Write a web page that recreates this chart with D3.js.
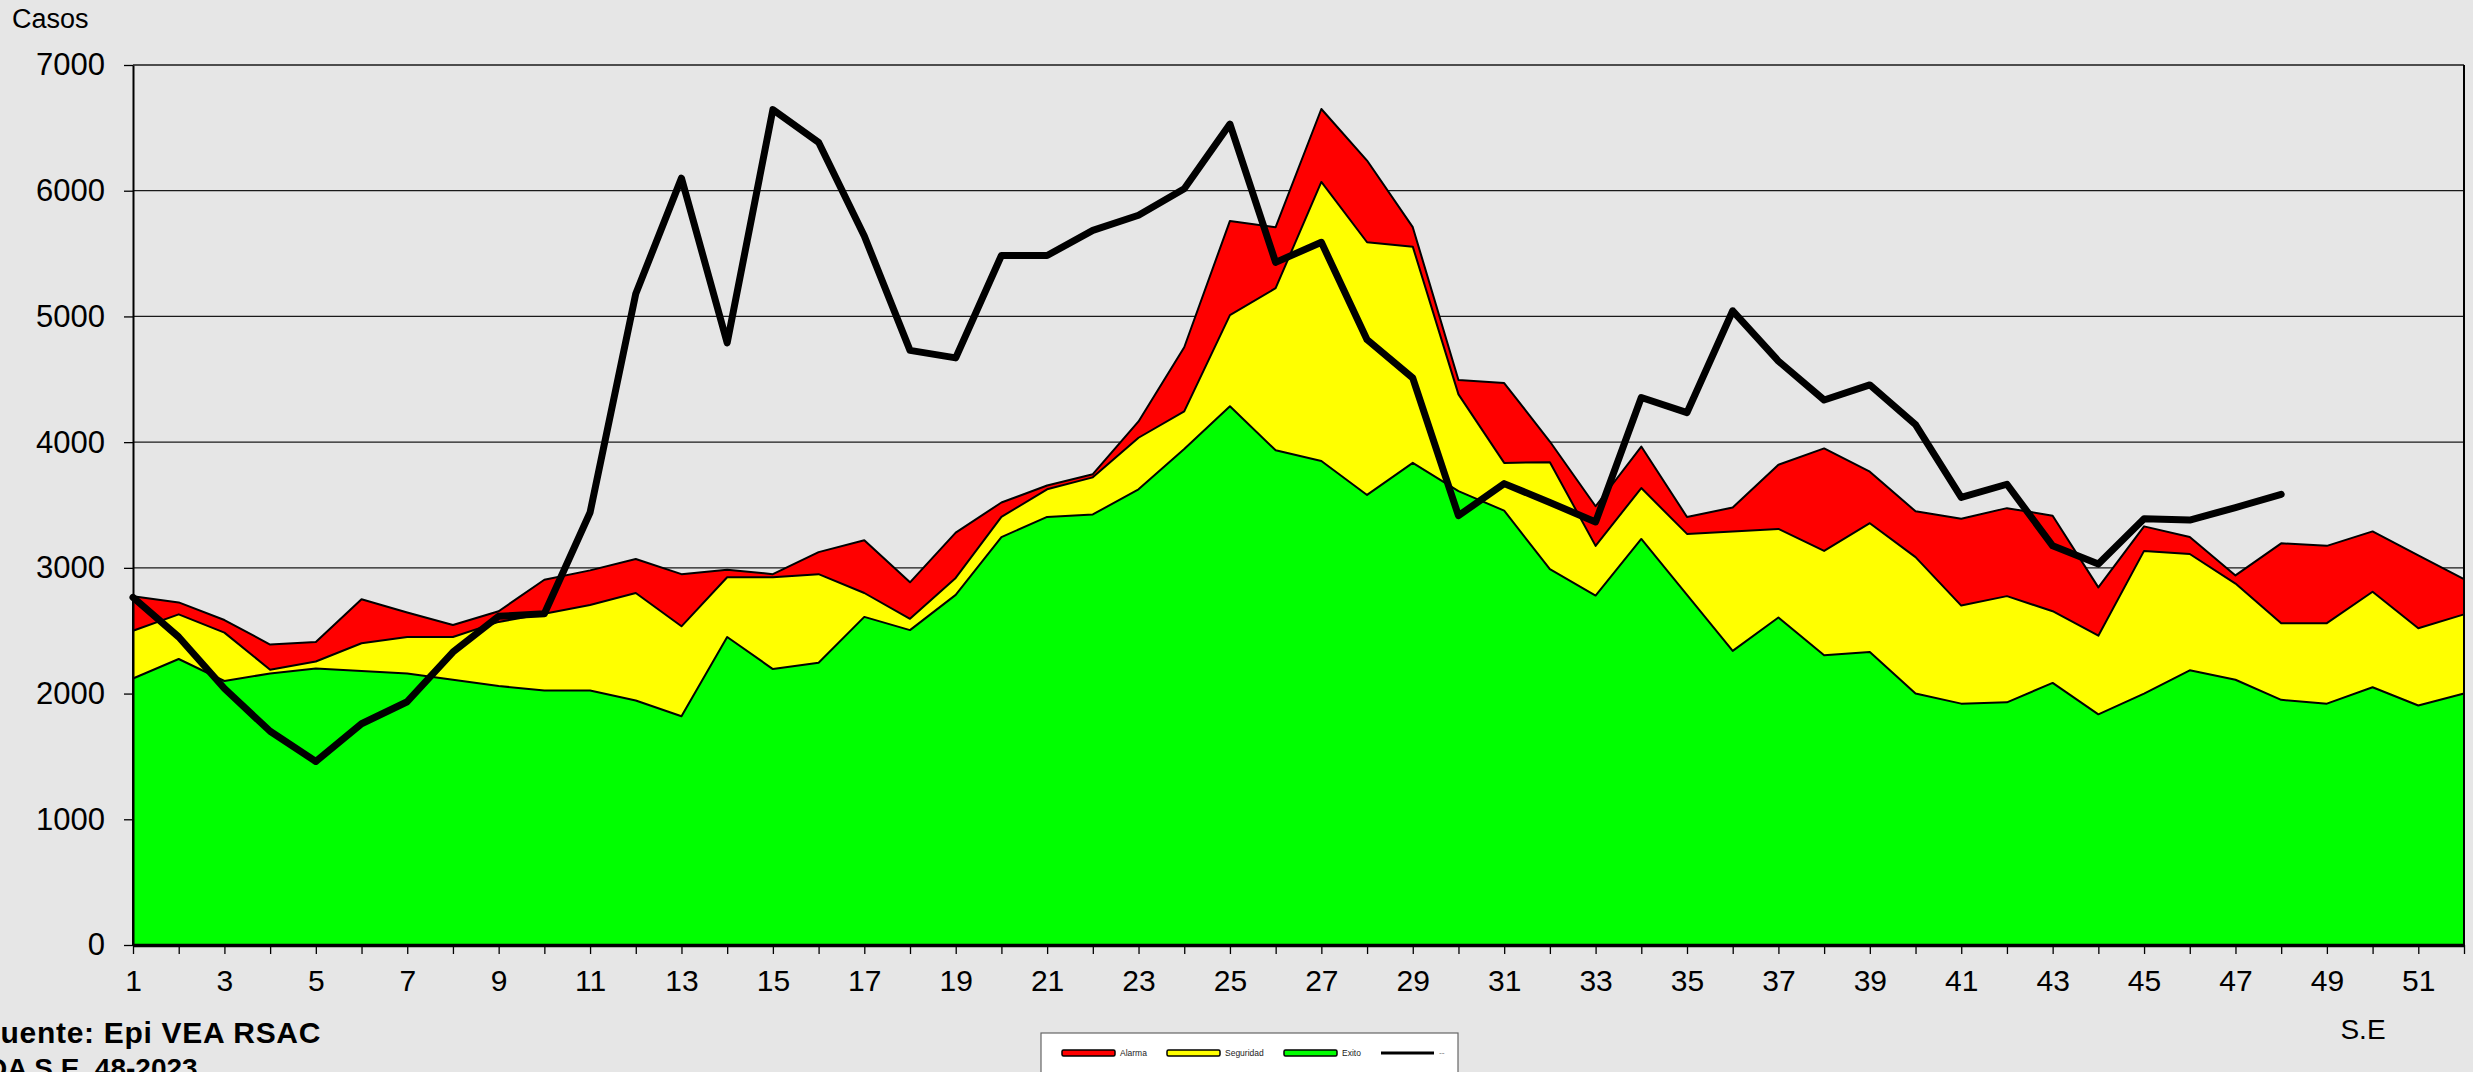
<!DOCTYPE html>
<html lang="es">
    <head>
        <meta charset="utf-8">
        <title>Corredor endemico</title>
        <script src="https://cdn.jsdelivr.net/npm/d3@7"></script>
        <style>
            html, body { margin: 0; padding: 0; background: #e6e6e6; overflow: hidden; }
            svg text { font-family: "Liberation Sans", Arial, sans-serif; }
        </style>
    </head>
    <body>
        <div id="graph"></div>
    </body>
    <script>
        // semanas epidemiologicas
        var semanas = d3.range(1, 53);
        // curvas del corredor (umbral superior de cada zona)
        var alarma = [2775,2725,2585,2390,2410,2750,2645,2545,2655,2905,
                      2980,3070,2950,2985,2950,3125,3220,2885,3280,3520,
                      3655,3745,4165,4755,5760,5710,6650,6240,5710,4495,
                      4470,4005,3490,3965,3405,3480,3820,3950,3765,3450,
                      3390,3475,3415,2845,3330,3245,2940,3195,3175,3290,
                      3100,2910];
        var seguridad = [2500,2630,2485,2190,2255,2400,2450,2450,2570,2635,
                         2705,2800,2535,2925,2925,2950,2800,2595,2920,3405,
                         3625,3720,4035,4245,5010,5225,6070,5590,5555,4380,
                         3835,3840,3175,3635,3270,3290,3310,3135,3355,3085,
                         2700,2775,2655,2460,3135,3110,2875,2560,2560,2810,
                         2520,2630];
        var exito = [2120,2275,2100,2160,2200,2180,2160,2110,2060,2025,
                     2025,1945,1820,2450,2195,2245,2610,2505,2785,3245,
                     3405,3425,3625,3945,4285,3935,3850,3580,3835,3610,
                     3455,2990,2780,3230,2785,2340,2605,2305,2330,2000,
                     1920,1930,2085,1835,2000,2185,2110,1950,1920,2050,
                     1905,2000];
        // casos 2023 hasta la S.E. 48
        var casos = [2765,2450,2040,1700,1460,1760,1935,2330,2615,2635,
                     3440,5180,6100,4790,6645,6385,5640,4730,4670,5485,
                     5485,5685,5805,6015,6530,5430,5590,4815,4510,3415,
                     3670,3520,3365,4355,4235,5045,4645,4335,4455,4140,
                     3560,3665,3175,3030,3390,3380,3480,3585];
        var yTicks = [0,1000,2000,3000,4000,5000,6000,7000];
        var series = [
            {name: "Alarma", values: alarma, color: "#ff0000"},
            {name: "Seguridad", values: seguridad, color: "#ffff00"},
            {name: "Exito", values: exito, color: "#00ff00"}
        ];

        var W = 2473, H = 1072;
        var pLeft = 133, pRight = 2464, pTop = 65, pBottom = 945;

        var svg = d3.select("#graph").append("svg").attr("width", W).attr("height", H);
        svg.append("rect").attr("width", W).attr("height", H).attr("fill", "#e6e6e6");

        var x = d3.scaleLinear().domain([1, 52]).range([pLeft, pRight]);
        var y = d3.scaleLinear().domain([0, 7000]).range([pBottom, pTop]);

        // grid
        svg.append("g")
            .selectAll("line")
            .data(yTicks.slice(1))
            .enter()
            .append("line")
            .attr("x1", pLeft).attr("x2", pRight)
            .attr("y1", d => y(d)).attr("y2", d => y(d))
            .attr("stroke", "#1a1a1a").attr("stroke-width", 1.3);

        // areas
        var area = d3.area()
            .x((d, i) => x(semanas[i]))
            .y0(y(0))
            .y1(d => y(d));

        svg.selectAll("path.zona")
            .data(series)
            .enter()
            .append("path")
            .attr("class", "zona")
            .attr("d", d => area(d.values))
            .attr("fill", d => d.color)
            .attr("stroke", "#000")
            .attr("stroke-width", 2)
            .attr("stroke-linejoin", "round");

        // casos
        var line = d3.line()
            .x((d, i) => x(semanas[i]))
            .y(d => y(d));
        svg.append("path")
            .attr("d", line(casos))
            .attr("fill", "none")
            .attr("stroke", "#000")
            .attr("stroke-width", 7)
            .attr("stroke-linejoin", "round")
            .attr("stroke-linecap", "round");

        // frame
        svg.append("line").attr("x1", pRight).attr("x2", pRight).attr("y1", pTop).attr("y2", pBottom)
            .attr("stroke", "#000").attr("stroke-width", 2);

        // Y axis
        var yAxis = svg.append("g")
            .attr("transform", "translate(" + pLeft + ",0)")
            .call(d3.axisLeft(y).tickValues(yTicks).tickSize(9).tickSizeOuter(0).tickPadding(19)
                .tickFormat(d3.format("d")));
        yAxis.select(".domain").attr("stroke", "#000").attr("stroke-width", 2);
        yAxis.selectAll(".tick line").attr("stroke", "#000").attr("stroke-width", 1.3);
        yAxis.selectAll("text")
            .attr("font-size", 31).attr("fill", "#000")
            .style("font-family", "'Liberation Sans', Arial, sans-serif");

        // X axis
        var xAxis = svg.append("g")
            .attr("transform", "translate(0," + pBottom + ")")
            .call(d3.axisBottom(x).tickValues(semanas).tickSize(9).tickSizeOuter(0).tickPadding(16)
                .tickFormat(d => d % 2 == 1 ? d : ""));
        xAxis.select(".domain").attr("stroke", "#000").attr("stroke-width", 3.5);
        xAxis.selectAll(".tick line").attr("stroke", "#000").attr("stroke-width", 1.3);
        xAxis.selectAll("text")
            .attr("font-size", 30).attr("fill", "#000")
            .style("font-family", "'Liberation Sans', Arial, sans-serif");

        // titles
        svg.append("text").attr("x", 12).attr("y", 28).attr("font-size", 27).text("Casos");
        svg.append("text").attr("x", 2363).attr("y", 1039).attr("font-size", 28)
            .attr("text-anchor", "middle").text("S.E");
        svg.append("text").attr("x", -18.5).attr("y", 1043).attr("font-size", 30)
            .attr("letter-spacing", 0.7).attr("font-weight", "bold").text("Fuente: Epi VEA RSAC");
        svg.append("text").attr("x", -13).attr("y", 1078).attr("font-size", 28)
            .attr("font-weight", "bold").text("DA S.E. 48-2023");

        // legend
        var lg = svg.append("g");
        lg.append("rect").attr("x", 1041).attr("y", 1033).attr("width", 417).attr("height", 60)
            .attr("fill", "#fff").attr("stroke", "#666").attr("stroke-width", 1.2);
        var legendItems = [
            {name: "Alarma", color: "#ff0000", x: 1062},
            {name: "Seguridad", color: "#ffff00", x: 1167},
            {name: "Exito", color: "#00ff00", x: 1284},
            {name: "--", color: null, x: 1381}
        ];
        legendItems.forEach(function(it){
            if (it.color) {
                lg.append("rect").attr("x", it.x).attr("y", 1050).attr("width", 53).attr("height", 6)
                    .attr("rx", 1.5).attr("fill", it.color).attr("stroke", "#000").attr("stroke-width", 1.5);
            } else {
                lg.append("line").attr("x1", it.x).attr("x2", it.x + 53).attr("y1", 1053).attr("y2", 1053)
                    .attr("stroke", "#000").attr("stroke-width", 3);
            }
            lg.append("text").attr("x", it.x + 58).attr("y", 1056).attr("font-size", 8.5)
                .attr("fill", it.color ? "#222" : "#888").text(it.name);
        });
    </script>
</html>
